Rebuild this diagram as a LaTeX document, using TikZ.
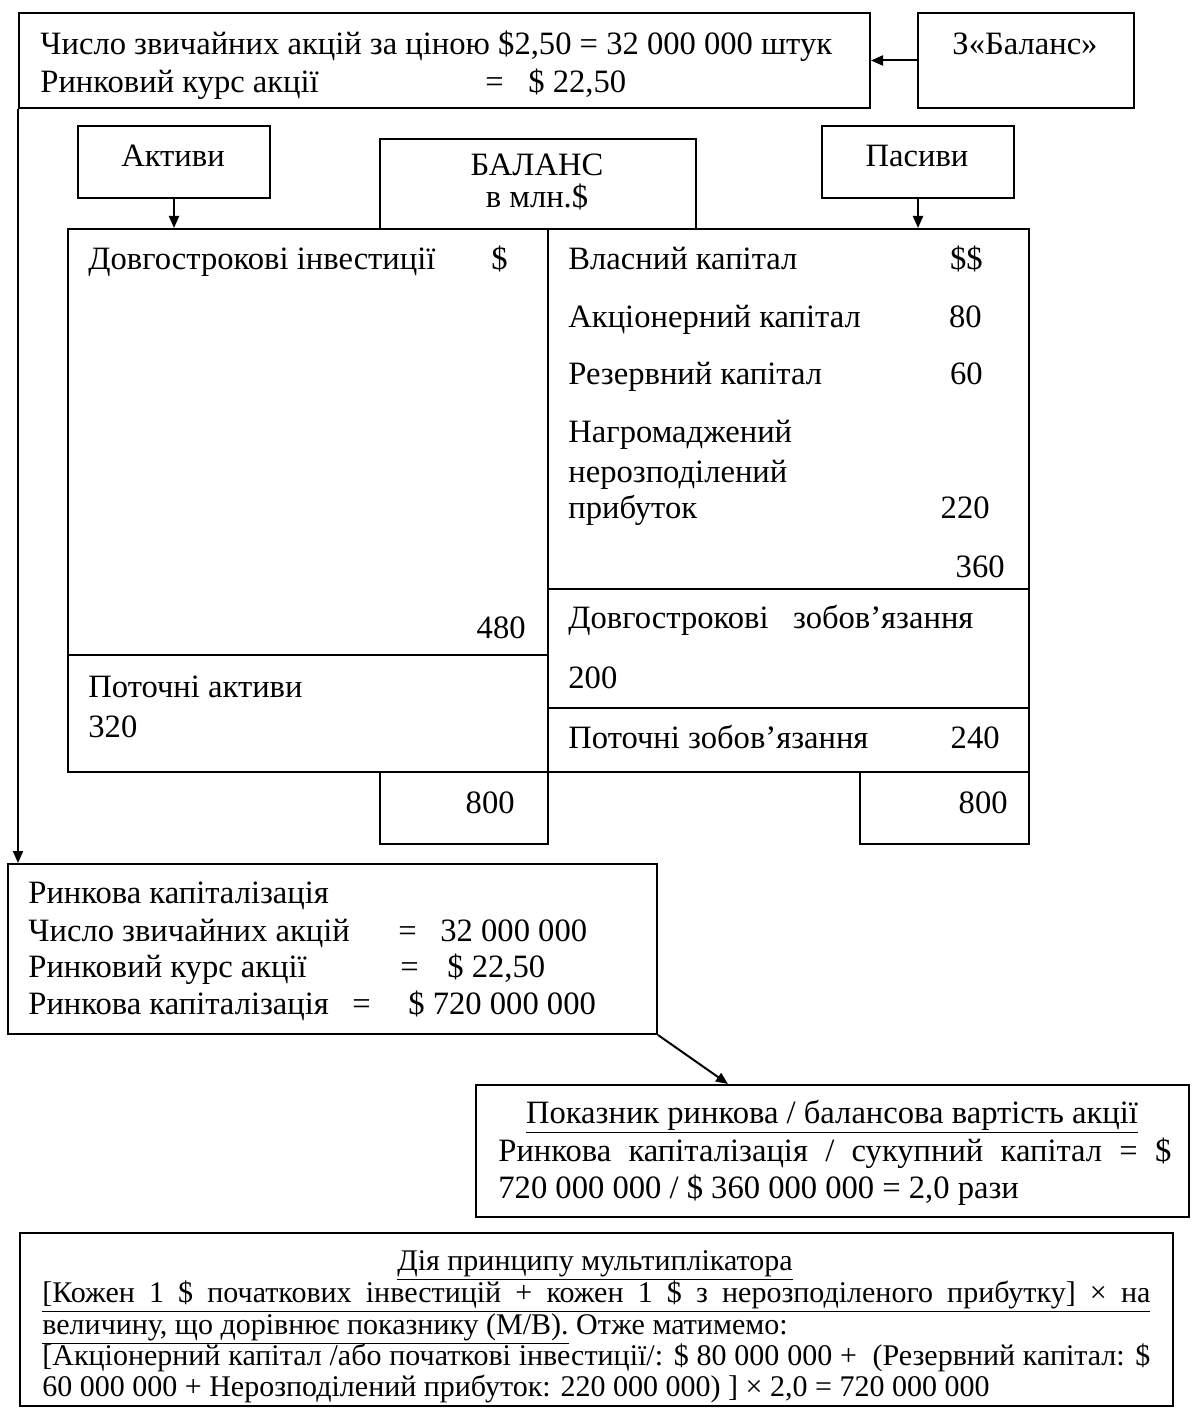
\documentclass[tikz,border=0pt]{standalone}
\usepackage{fontspec}
\setmainfont{Liberation Serif}
\usetikzlibrary{arrows.meta}

\begin{document}
\begin{tikzpicture}[x=0.5pt,y=-0.5pt,
  frame/.style 2 args={draw, line width=1pt, rectangle, inner sep=0pt, anchor=north west,
    minimum width=#1*0.5pt, minimum height=#2*0.5pt},
  txt/.style={inner sep=0pt, anchor=base west, font=\fontsize{16.3}{19}\selectfont},
  txtr/.style={txt, anchor=base east},
  txtc/.style={txt, anchor=base},
  small/.style={inner sep=0pt, anchor=base west, font=\fontsize{15}{17}\selectfont},
  smallc/.style={small, anchor=base},
  arr/.style={-{Triangle[length=6pt,width=5pt]}, line width=1pt}
]
\useasboundingbox (0,0) rectangle (1192,1411);

% frames
\node[frame={851}{95}]  (top)   at (18,12)   {};
\node[frame={216}{95}]  (zbal)  at (917,12)  {};
\node[frame={192}{72}]  (akt)   at (77,125)  {};
\node[frame={192}{72}]  (pas)   at (821,125) {};
\node[frame={316}{90}]  (bal)   at (379,138) {};
\node[frame={480}{426}] (lt)    at (67,228)  {};
\node[frame={480}{117}] (lb)    at (67,654)  {};
\node[frame={481}{360}] (rt)    at (547,228) {};
\node[frame={481}{119}] (rm)    at (547,588) {};
\node[frame={481}{64}]  (rb)    at (547,707) {};
\node[frame={168}{72}]  (tot1)  at (379,771) {};
\node[frame={169}{72}]  (tot2)  at (859,771) {};
\node[frame={649}{170}] (rynk)  at (7,863)   {};
\node[frame={713}{132}] (pokaz) at (475,1084) {};
\node[frame={1153}{173}] (diya) at (19,1232) {};

% share data
\node[txt] (t1) at (40,55) {Число звичайних акцій за ціною \$2,50 = 32 000 000 штук};
\node[txt] (t2) at (40,93) {Ринковий курс акції};
\node[txt] (t2e) at (485,93) {=};
\node[txt] (t2v) at (528,93) {\$ 22,50};
\node[txtc] (zb) at (1025,55) {З«Баланс»};

% headings
\node[txtc] (ak) at (173,167) {Активи};
\node[txtc] (pa) at (917,167) {Пасиви};
\node[txtc] (b1) at (537,176) {БАЛАНС};
\node[txtc] (b2) at (537,208) {в млн.\$};

% assets
\node[txt]  (a1)  at (88,270)  {Довгострокові інвестиції};
\node[txtr] (a1d) at (508,270) {\$};
\node[txtr] (a1v) at (526,638) {480};
\node[txt]  (a2)  at (88,697)  {Поточні активи};
\node[txt]  (a2v) at (88,737)  {320};
\node[txtr] (s1)  at (515,813) {800};

% liabilities
\node[txt]  (p1)  at (568,270) {Власний капітал};
\node[txtr] (p1d) at (983,270) {\$\$};
\node[txt]  (p2)  at (568,328) {Акціонерний капітал};
\node[txtr] (p2v) at (982,328) {80};
\node[txt]  (p3)  at (568,385) {Резервний капітал};
\node[txtr] (p3v) at (983,385) {60};
\node[txt]  (p4a) at (568,443) {Нагромаджений};
\node[txt]  (p4b) at (568,482) {нерозподілений};
\node[txt]  (p4c) at (568,518) {прибуток};
\node[txtr] (p4v) at (990,518) {220};
\node[txtr] (p5v) at (1005,577) {360};
\node[txt]  (p6)  at (568,628) {Довгострокові\ \ \ зобов’язання};
\node[txt]  (p6v) at (568,688) {200};
\node[txt]  (p7)  at (568,748) {Поточні зобов’язання};
\node[txtr] (p7v) at (1000,748) {240};
\node[txtr] (s2)  at (1008,813) {800};

% market capitalisation
\node[txt] (r1)  at (28,903)  {Ринкова капіталізація};
\node[txt] (r2)  at (28,941)  {Число звичайних акцій};
\node[txt] (r2e) at (398,941) {=};
\node[txt] (r2v) at (440,941) {32 000 000};
\node[txt] (r3)  at (28,977)  {Ринковий курс акції};
\node[txt] (r3e) at (400,977) {=};
\node[txt] (r3v) at (447,977) {\$ 22,50};
\node[txt] (r4)  at (28,1014) {Ринкова капіталізація};
\node[txt] (r4e) at (352,1014) {=};
\node[txt] (r4v) at (408,1014) {\$ 720 000 000};

% market-to-book ratio
\node[txtc] (k1) at (832,1123) {\underline{Показник ринкова / балансова вартість акції}};
\node[txt]  (k2) at (498,1161) {\makebox[336.5pt][s]{Ринкова капіталізація / сукупний капітал = \$}};
\node[txt]  (k3) at (498,1198) {720 000 000 / \$ 360 000 000 = 2,0 рази};

% multiplier
\node[smallc] (m0) at (595,1270) {\underline{Дія принципу мультиплікатора}};
\node[small] (m1) at (42,1302) {\underline{\makebox[554pt][s]{[Кожен 1 \$ початкових інвестицій + кожен 1 \$ з нерозподіленого прибутку] × на}}};
\node[small] (m2) at (42,1334) {\underline{величину, що дорівнює показнику (М/В).} Отже матимемо:};
\node[small] (m3) at (42,1365) {\makebox[554pt][s]{[Акціонерний капітал /або початкові інвестиції/: \$ 80 000 000 + \ (Резервний капітал: \$}};
\node[small] (m4) at (42,1396) {60 000 000 + Нерозподілений прибуток: 220 000 000) ] × 2,0 = 720 000 000};

% connectors
\coordinate (ktop) at (728,1084);
\draw[arr] (zbal.west) -- (top.east);
\draw[arr] (top.south west) -- (top.south west |- rynk.north);
\draw[arr] (akt.south) -- (akt.south |- lt.north);
\draw[arr] (pas.south) -- (pas.south |- rt.north);
\draw[arr] (rynk.south east) -- (ktop);
\end{tikzpicture}
\end{document}
